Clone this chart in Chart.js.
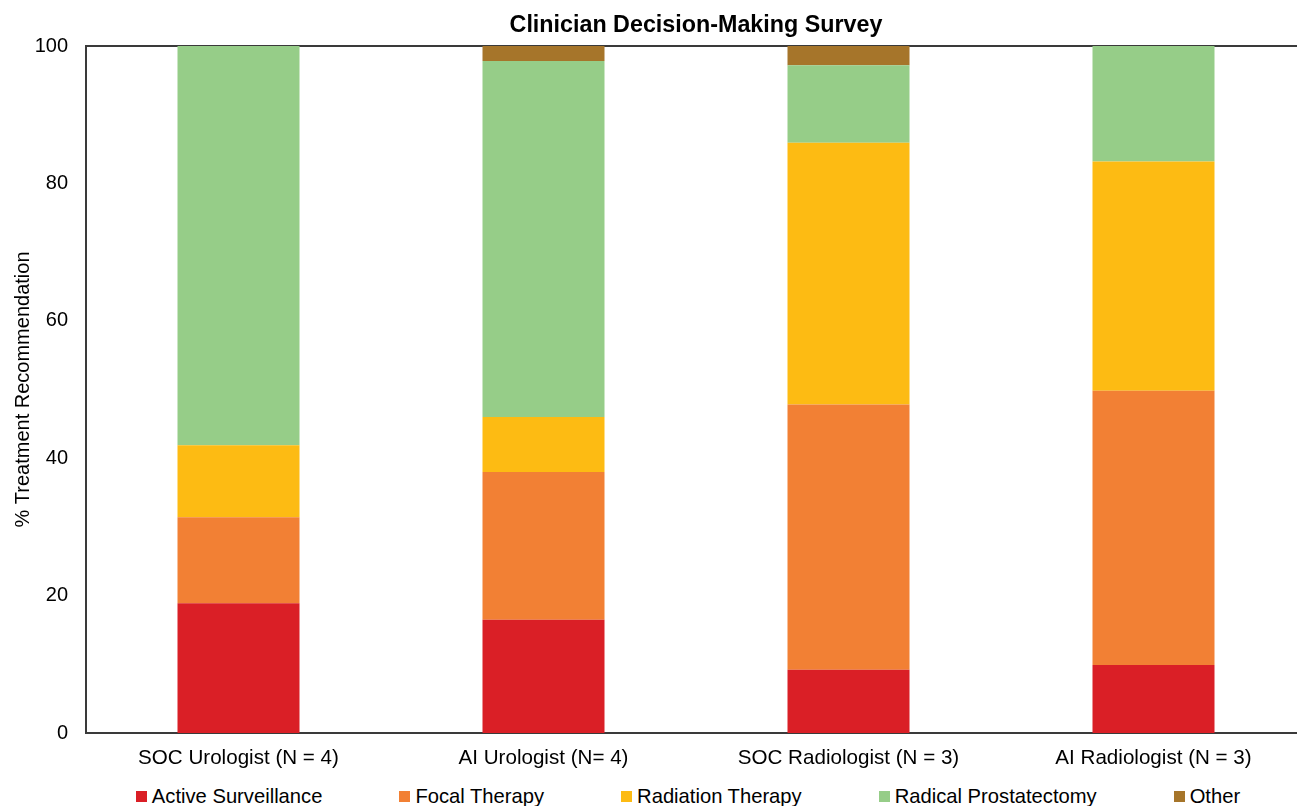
<!DOCTYPE html>
<html>
<head>
<meta charset="utf-8">
<script src="https://cdn.jsdelivr.net/npm/chart.js@4/dist/chart.umd.min.js"></script>
<style>
  html, body { margin: 0; padding: 0; background: #fff; overflow: hidden; }
  #wrap { position: relative; width: 1297px; height: 806px; overflow: hidden; }
  #chart { position: absolute; left: 0; top: 0; }
  #title {
    position: absolute; left: 86px; top: 10px; width: 1220px;
    text-align: center; white-space: nowrap;
    font-family: "Liberation Sans", Arial, sans-serif; font-weight: bold;
    font-size: 23.3px; line-height: 28px; color: #000;
  }
  #legend {
    position: absolute; left: 0; top: 784px; width: 1376px;
    display: flex; justify-content: center; gap: 77px;
    font-family: "Liberation Sans", Arial, sans-serif; font-size: 20.2px; color: #000;
    line-height: 24px;
  }
  #legend .item { display: flex; align-items: center; white-space: nowrap; }
  #legend .box { width: 11px; height: 11px; margin-right: 5px; display: inline-block; }
</style>
</head>
<body>
<div id="wrap">
  <canvas id="chart" width="1393" height="771"></canvas>
  <div id="title">Clinician Decision-Making Survey</div>
  <div id="legend"></div>
</div>
<script>
// Clinician groups on the x axis
const categories = [
  "SOC Urologist (N = 4)",
  "AI Urologist (N= 4)",
  "SOC Radiologist (N = 3)",
  "AI Radiologist (N = 3)"
];

// Percent of treatment recommendations per group
const activeSurveillance  = [18.9, 16.5, 9.2, 9.9];
const focalTherapy        = [12.5, 21.5, 38.6, 39.9];
const radiationTherapy    = [10.5, 8.0, 38.1, 33.4];
const radicalProstatectomy= [58.1, 51.8, 11.3, 16.8];
const other               = [0, 2.2, 2.8, 0];

const yTicks = [0, 20, 40, 60, 80, 100];

const seriesNames  = ["Active Surveillance", "Focal Therapy", "Radiation Therapy", "Radical Prostatectomy", "Other"];
const seriesValues = [activeSurveillance, focalTherapy, radiationTherapy, radicalProstatectomy, other];
const seriesColors = ["#DA1F26", "#F28034", "#FDBB13", "#96CD88", "#A6752A"];

const FONT = "'Liberation Sans', Arial, sans-serif";
const AXIS_COLOR = "#3a3a3a";

const datasets = seriesNames.map((name, i) => ({
  label: name,
  data: seriesValues[i],
  backgroundColor: seriesColors[i],
  borderWidth: 0,
  barPercentage: 0.4,
  categoryPercentage: 1.0,
  stack: "s"
}));

new Chart(document.getElementById("chart"), {
  type: "bar",
  data: { labels: categories, datasets },
  options: {
    responsive: false,
    devicePixelRatio: 1,
    animation: false,
    // top padding leaves room for the heading above the plot
    layout: { padding: { left: 2, right: 87, top: 46, bottom: 0 } },
    plugins: {
      legend: { display: false },
      tooltip: { enabled: false },
      title: { display: false }
    },
    scales: {
      x: {
        stacked: true,
        grid: { display: false, drawTicks: false },
        border: { display: true, color: AXIS_COLOR, width: 2 },
        ticks: { color: "#000", font: { family: FONT, size: 20.6 }, padding: 13, maxRotation: 0, autoSkip: false },
        afterFit: (scale) => { scale.height = 38; }
      },
      xTop: {
        type: "category",
        position: "top",
        labels: categories,
        grid: { display: false, drawTicks: false },
        border: { display: true, color: AXIS_COLOR, width: 2 },
        ticks: { display: false },
        afterFit: (scale) => { scale.height = 0; }
      },
      y: {
        stacked: true,
        min: 0,
        max: 100,
        afterBuildTicks: (axis) => { axis.ticks = yTicks.map(v => ({ value: v })); },
        afterFit: (scale) => { scale.width = 84; },
        grid: { display: false, drawTicks: false },
        border: { display: true, color: AXIS_COLOR, width: 2 },
        ticks: { color: "#000", font: { family: FONT, size: 20 }, padding: 18 },
        title: {
          display: true,
          text: "% Treatment Recommendation",
          color: "#000",
          font: { family: FONT, size: 20 },
          padding: { top: 9, bottom: 1 }
        }
      }
    }
  }
});

// Legend row under the chart
const legendEl = document.getElementById("legend");
seriesNames.forEach((name, i) => {
  const item = document.createElement("span");
  item.className = "item";
  const box = document.createElement("span");
  box.className = "box";
  box.style.background = seriesColors[i];
  item.appendChild(box);
  item.appendChild(document.createTextNode(name));
  legendEl.appendChild(item);
});
</script>
</body>
</html>
